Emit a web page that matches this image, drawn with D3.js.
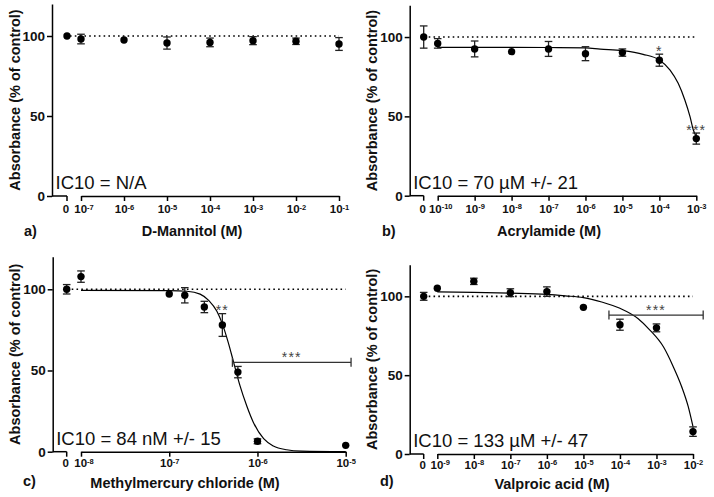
<!DOCTYPE html>
<html><head><meta charset="utf-8">
<script src="https://cdn.jsdelivr.net/npm/d3@7"></script>
<style>body{margin:0;background:#fff}svg{display:block}</style>
</head><body>
<svg id="chart" width="714" height="497"></svg>
<script>
// ---------------- DATA ----------------
// concentration in M (0 = control), mean absorbance (% of control), error
const mannitolConc = [0, 1e-7, 1e-6, 1e-5, 1e-4, 1e-3, 1e-2, 1e-1];
const mannitolMean = [100, 98.1, 97.5, 95.6, 96.0, 97.1, 96.7, 95.0];
const mannitolErr  = [0.8, 3.0, 0.6, 3.8, 2.7, 2.5, 2.0, 4.0];

const acrylamideConc = [0, 1e-10, 1e-9, 1e-8, 1e-7, 1e-6, 1e-5, 1e-4, 1e-3];
const acrylamideMean = [100, 96, 92.5, 90.8, 92.5, 89.5, 90.2, 85.4, 36];
const acrylamideErr  = [7, 3, 5, 0.5, 4.7, 4.4, 2.3, 3.8, 3.5];
const acrylamideFitLogConc = [-10, -9, -8, -7, -6, -5.6, -5, -4.44, -4, -3.71, -3.49, -3.31, -3.17, -3.08, -3.0];
const acrylamideFitValue   = [93.5, 93.5, 93.5, 93.4, 93.2, 92.4, 91.4, 89.1, 85.5, 79.2, 70.8, 60.3, 49.8, 41.4, 37.2];

const methylConc = [0, 1e-8, 1e-7, 1.5e-7, 2.5e-7, 4e-7, 6e-7, 1e-6, 1e-5];
const methylMean = [100, 107.8, 97.1, 96.3, 89.1, 78, 49, 6.4, 3.9];
const methylErr  = [2.9, 3.5, 0.6, 4.7, 3.5, 7, 3.5, 1.5, 0.5];
const methylFitLogConc = [-8, -7, -6.8, -6.65, -6.55, -6.46, -6.40, -6.33, -6.27, -6.20, -6.12, -6.05, -5.93, -5.82, -5.67, -5.5, -5.0];
const methylFitValue   = [99.3, 99.2, 98.8, 97, 93, 86.5, 79, 67, 55, 41, 28, 18.5, 8, 3.5, 1.2, 0.4, 0.1];

const valproicConc = [0, 1e-9, 1e-8, 1e-7, 1e-6, 1e-5, 1e-4, 1e-3, 1e-2];
const valproicMean = [100, 105.1, 109.5, 102.3, 103, 93, 82, 80, 14.2];
const valproicErr  = [2.5, 0.6, 2, 2.5, 3, 0.6, 3.5, 2.5, 3];
const valproicFitLogConc = [-9, -8, -7, -6, -5.5, -5, -4.5, -4, -3.5, -3.18, -2.81, -2.54, -2.31, -2.13, -2.0];
const valproicFitValue   = [102.8, 102.5, 102, 101.2, 100.3, 99.2, 96.4, 92.4, 85.8, 78.6, 68, 55.4, 42.7, 30, 17.3];

const yTicks = [0, 50, 100];
const mannitolDecades   = [-7, -6, -5, -4, -3, -2, -1];
const acrylamideDecades = [-10, -9, -8, -7, -6, -5, -4, -3];
const methylDecades     = [-8, -7, -6, -5];
const valproicDecades   = [-9, -8, -7, -6, -5, -4, -3, -2];

const acrylamideStars = [{conc: 1e-4, label: "*"}, {conc: 1e-3, label: "***"}];
const methylStars     = [{conc: 4e-7, label: "**"}];
const methylBracket   = {from: 5.2e-7, to: 1.15e-5, value: 55, label: "***"};
const valproicBracket = {from: 5e-5, to: 1.9e-2, value: 88.1, label: "***"};

const titles = ["D-Mannitol (M)", "Acrylamide (M)", "Methylmercury chloride (M)", "Valproic acid (M)"];
const icTexts = ["IC10 = N/A", "IC10 = 70 \u00B5M +/- 21", "IC10 = 84 nM +/- 15", "IC10 = 133 \u00B5M +/- 47"];
const letters = ["a)", "b)", "c)", "d)"];

// ---------------- LAYOUT ----------------
const FONT = "'Liberation Sans', Arial, Helvetica, sans-serif";
const svg = d3.select("#chart");

const panels = [
  {conc: mannitolConc, mean: mannitolMean, err: mannitolErr, decades: mannitolDecades,
   title: titles[0], ic: icTexts[0], letter: letters[0],
   ax: 52, y0: 196, y120: 4, zeroX: 67, xFirst: 81, xLast: 339,
   icY: 188.5, titleX: 192, titleY: 236, letterX: 24, letterY: 236, ylabX: 15, dotStart: 70, lblPad: 4},
  {conc: acrylamideConc, mean: acrylamideMean, err: acrylamideErr, decades: acrylamideDecades,
   fitX: acrylamideFitLogConc, fitY: acrylamideFitValue, stars: acrylamideStars,
   title: titles[1], ic: icTexts[1], letter: letters[1],
   ax: 409.7, y0: 195.7, y120: 5.3, zeroX: 423.7, xFirst: 437.7, xLast: 696.3,
   icY: 188.5, titleX: 549, titleY: 236, letterX: 382, letterY: 236, ylabX: 372, dotStart: 428.7, lblPad: 4},
  {conc: methylConc, mean: methylMean, err: methylErr, decades: methylDecades,
   fitX: methylFitLogConc, fitY: methylFitValue, stars: methylStars, bracket: methylBracket,
   title: titles[2], ic: icTexts[2], letter: letters[2],
   ax: 52.7, y0: 451.7, y120: 256.8, zeroX: 66.7, xFirst: 81, xLast: 345.7,
   icY: 445, titleX: 185, titleY: 488, letterX: 23, letterY: 486, ylabX: 15, dotStart: 71.7, lblPad: 2.5},
  {conc: valproicConc, mean: valproicMean, err: valproicErr, decades: valproicDecades,
   fitX: valproicFitLogConc, fitY: valproicFitValue, bracket: valproicBracket,
   title: titles[3], ic: icTexts[3], letter: letters[3],
   ax: 409.7, y0: 454, y120: 264.8, zeroX: 423.7, xFirst: 437.3, xLast: 693,
   icY: 446.5, titleX: 552, titleY: 489, letterX: 380, letterY: 486, ylabX: 372, dotStart: 428.7, lblPad: 1.5}
];

const sw = 1.5;

panels.forEach(p => {
  const g = svg.append("g").attr("font-family", FONT);
  const lo = p.decades[0], hi = p.decades[p.decades.length - 1];
  const x = d3.scaleLog().domain([Math.pow(10, lo), Math.pow(10, hi)]).range([p.xFirst, p.xLast]);
  const y = d3.scaleLinear().domain([0, 120]).range([p.y0, p.y120]);
  const px = c => c === 0 ? p.zeroX : x(c);

  // Y axis
  const ya = g.append("g").attr("transform", `translate(${p.ax},0)`)
    .call(d3.axisLeft(y).tickValues(yTicks).tickSize(5).tickSizeOuter(0).tickPadding(2));
  ya.select(".domain").attr("stroke-width", sw);
  ya.selectAll(".tick line").attr("stroke-width", sw);
  ya.selectAll(".tick text").attr("font-size", 13.5).attr("font-weight", "bold").attr("fill", "#111").attr("font-family", FONT);

  // X axis: zero segment
  g.append("line").attr("x1", p.ax).attr("x2", p.zeroX).attr("y1", p.y0).attr("y2", p.y0)
    .attr("stroke", "#000").attr("stroke-width", sw);
  g.append("line").attr("x1", p.zeroX).attr("x2", p.zeroX).attr("y1", p.y0).attr("y2", p.y0 + 5)
    .attr("stroke", "#000").attr("stroke-width", sw);
  g.append("text").attr("x", p.zeroX - 1).attr("y", p.y0 + 5 + p.lblPad).attr("dy", "0.71em")
    .attr("text-anchor", "middle").attr("font-size", 11.5).attr("font-weight", "bold").attr("fill", "#111").text("0");

  // X axis: log segment
  const xa = g.append("g").attr("transform", `translate(0,${p.y0})`)
    .call(d3.axisBottom(x).tickValues(p.decades.map(d => Math.pow(10, d))).tickSize(5).tickSizeOuter(0).tickPadding(p.lblPad).tickFormat(""));
  xa.select(".domain").attr("stroke-width", sw);
  xa.selectAll(".tick line").attr("stroke-width", sw);
  xa.selectAll(".tick text").each(function(d, i) {
    const t = d3.select(this).attr("font-family", FONT).attr("font-weight", "bold").attr("fill", "#111").attr("font-size", 11.5)
      .attr("x", i === 0 ? 2.5 : 0);
    t.append("tspan").text("10");
    t.append("tspan").attr("dy", "-0.45em").attr("font-size", 7.5).text("-" + Math.abs(p.decades[i]));
  });

  // dotted control line
  g.append("line").attr("x1", p.dotStart).attr("x2", p.xLast).attr("y1", y(100)).attr("y2", y(100))
    .attr("stroke", "#000").attr("stroke-width", 1.6).attr("stroke-dasharray", "1.6,3.2");

  // fit curve
  if (p.fitX) {
    const pts = p.fitX.map((lx, i) => [x(Math.pow(10, lx)), y(p.fitY[i])]);
    g.append("path").attr("d", d3.line().curve(d3.curveMonotoneX)(pts))
      .attr("fill", "none").attr("stroke", "#000").attr("stroke-width", 1.2);
  }

  // bracket
  if (p.bracket) {
    const b = p.bracket, by = y(b.value), bx1 = x(b.from), bx2 = x(b.to);
    g.append("line").attr("x1", bx1).attr("x2", bx2).attr("y1", by).attr("y2", by).attr("stroke", "#333").attr("stroke-width", 1.3);
    [bx1, bx2].forEach(bx => g.append("line").attr("x1", bx).attr("x2", bx).attr("y1", by - 4.5).attr("y2", by + 4.5)
      .attr("stroke", "#333").attr("stroke-width", 1.3));
    g.append("text").attr("x", (bx1 + bx2) / 2).attr("y", by - 0.5).attr("text-anchor", "middle")
      .attr("font-size", 14).attr("letter-spacing", 1.2).attr("fill", "#444").text(b.label);
  }

  // error bars
  p.conc.forEach((c, i) => {
    const cx = px(c), e = p.err[i];
    if (e < 1) return;
    const yt = y(p.mean[i] + e), yb = y(p.mean[i] - e);
    g.append("line").attr("x1", cx).attr("x2", cx).attr("y1", yt).attr("y2", yb).attr("stroke", "#222").attr("stroke-width", 1.3);
    [yt, yb].forEach(yy => g.append("line").attr("x1", cx - 3.8).attr("x2", cx + 3.8).attr("y1", yy).attr("y2", yy)
      .attr("stroke", "#222").attr("stroke-width", 1.3));
  });

  // points
  g.selectAll("circle.pt").data(p.conc).enter().append("circle")
    .attr("cx", d => px(d)).attr("cy", (d, i) => y(p.mean[i])).attr("r", 3.7).attr("fill", "#000");

  // stars
  if (p.stars) {
    p.stars.forEach(s => {
      const i = p.conc.indexOf(s.conc);
      g.append("text").attr("x", x(s.conc)).attr("y", y(p.mean[i] + p.err[i]) + 1.5).attr("text-anchor", "middle")
        .attr("font-size", 14).attr("letter-spacing", 1.2).attr("fill", "#444").text(s.label);
    });
  }

  // IC10 text
  g.append("text").attr("x", p.ax + 3.5).attr("y", p.icY).attr("font-size", 18.5).attr("fill", "#111").text(p.ic);

  // axis titles
  g.append("text").attr("transform", `translate(${p.ylabX},${(p.y0 + p.y120) / 2}) rotate(-90)`)
    .attr("text-anchor", "middle").attr("dy", "0.36em").attr("font-size", 14.5).attr("font-weight", "bold").attr("fill", "#111")
    .text("Absorbance (% of control)");
  g.append("text").attr("x", p.titleX).attr("y", p.titleY).attr("text-anchor", "middle")
    .attr("font-size", 14.5).attr("font-weight", "bold").attr("fill", "#111").text(p.title);
  g.append("text").attr("x", p.letterX).attr("y", p.letterY)
    .attr("font-size", 14.5).attr("font-weight", "bold").attr("fill", "#111").text(p.letter);
});
</script>
</body></html>
